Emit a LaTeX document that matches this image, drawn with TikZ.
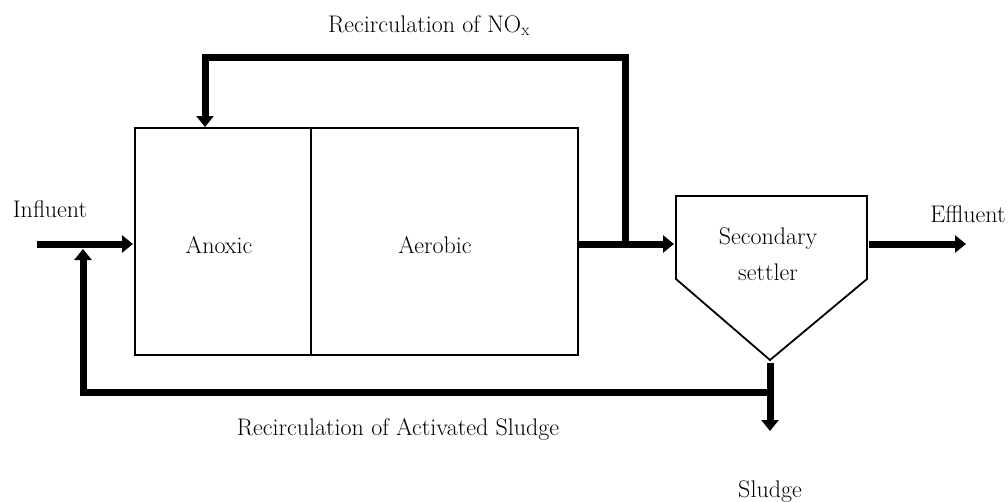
\documentclass[tikz,border=0pt]{standalone}
\usetikzlibrary{arrows.meta,calc}
\begin{document}
\begin{tikzpicture}[x=1pt,y=-1pt,
  flow/.style={line width=7pt,-{Triangle[length=11pt,width=17pt]}},
  unitline/.style={line width=1.8pt},
  lbl/.style={font=\fontsize{24}{28}\selectfont,inner sep=0pt,anchor=base}]
\useasboundingbox (0,0) rectangle (1008,501);
% units
\draw[unitline] (135,128) rectangle (311,355);
\draw[unitline] (311,128) rectangle (578,355);
\coordinate (anoxL) at (135,244);
\coordinate (aerR) at (578,244);
\node[lbl] (anoxic) at (219,253) {Anoxic};
\node[lbl] (aerobic) at (435,253) {Aerobic};
\draw[unitline] (676,196) -- (867,196) -- (867,279) -- (770,360) -- (676,279) -- cycle;
\coordinate (setL) at (676,244);
\coordinate (setR) at (867,244);
\coordinate (setB) at (770,360);
\node[lbl] (sec) at (768,244) {Secondary};
\node[lbl] (set) at (768,280) {settler};
% labels
\node[lbl] (infl) at (50,217) {Influent};
\node[lbl] (effl) at (968,222) {Effluent};
\node[lbl] (sludge) at (770,497) {Sludge};
\node[lbl] (ras) at (398,435) {Recirculation of Activated Sludge};
\node[lbl] (nox) at (429,32) {Recirculation of NO\textsubscript{x}};
% flows
\coordinate (inS) at (37,244);
\draw[flow] (inS) -- ($(anoxL)+(-2,0)$);
\draw[flow] (aerR) -- ($(setL)+(-2,0)$);
\coordinate (split) at (625,244);
\coordinate (top1) at (625,57);
\coordinate (top2) at (205,57);
\draw[flow] ($(split)+(0,3.5)$) -- (top1) -- (top2) -- (205,127);
\coordinate (effE) at (966,244);
\draw[flow] ($(setR)+(2,0)$) -- (effE);
\coordinate (botR) at (770,392);
\coordinate (botL) at (83,392);
\draw[flow] ($(botR)+(3.5,0)$) -- (botL) -- (83,249);
\draw[flow] ($(setB)+(0,3)$) -- (770,431);
\end{tikzpicture}
\end{document}
